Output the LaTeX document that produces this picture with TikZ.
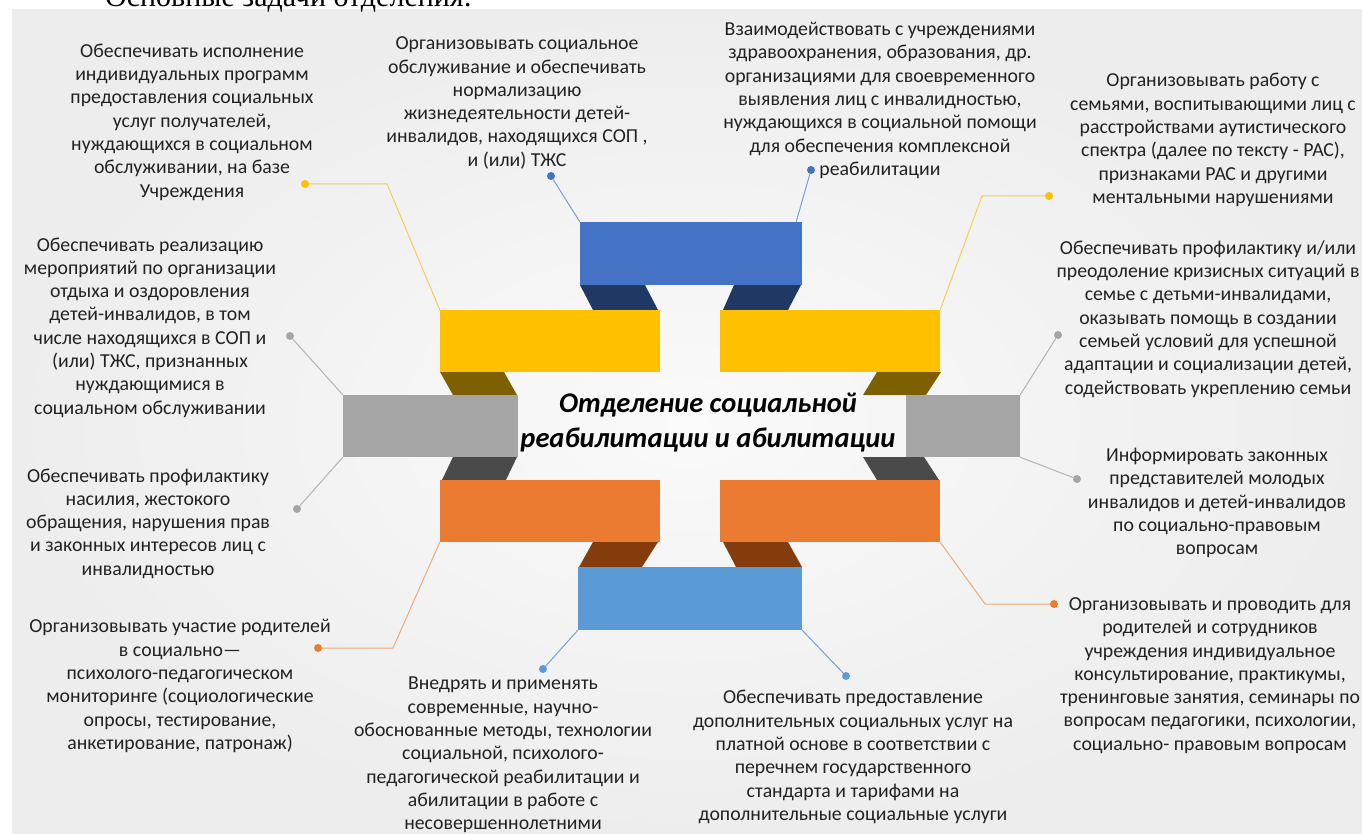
\documentclass[tikz,border=0pt]{standalone}
\usepackage{fontspec}
\setmainfont{Carlito}
\newfontfamily\seriffont{Liberation Serif}
\definecolor{txtc}{HTML}{222222}
\definecolor{cblue}{HTML}{4472C4}
\definecolor{cnavy}{HTML}{203864}
\definecolor{cyel}{HTML}{FFC000}
\definecolor{colive}{HTML}{7F6000}
\definecolor{cgray}{HTML}{A5A5A5}
\definecolor{cdgray}{HTML}{4A4A4A}
\definecolor{corange}{HTML}{EB7B30}
\definecolor{cbrown}{HTML}{843C0C}
\definecolor{clblue}{HTML}{5B9BD5}
\definecolor{lyel}{HTML}{F6CD55}
\definecolor{lgray}{HTML}{B4B4B4}
\definecolor{lblue}{HTML}{7E9BD4}
\definecolor{lorange}{HTML}{F2A878}
\begin{document}
\begin{tikzpicture}[x=1pt,y=-1pt,
  txt/.style={align=center, font=\fontsize{19.8}{23.3}\selectfont, text=txtc, inner sep=0pt},
  box/.style={rectangle, inner sep=0pt, draw=none},
  dot/.style={circle, inner sep=0pt, minimum size=8pt},
  conn/.style={line width=1pt}]
\useasboundingbox (0,0) rectangle (1362,834);
\fill[white] (0,0) rectangle (1362,834);
\shade[inner color=black!2, outer color=black!7] (12,10) rectangle (1362,834);
\node[font=\seriffont\fontsize{30}{32}\selectfont, anchor=base west, inner sep=0pt] (hdr) at (105,7) {Основные задачи отделения:};

% fold pieces
\fill[cnavy] (580,285) -- (645,285) -- (658,310) -- (593,310) -- cycle;
\fill[cnavy] (734,285) -- (801,285) -- (788,310) -- (723,310) -- cycle;
\fill[colive] (440,372) -- (504,372) -- (517,395) -- (453,395) -- cycle;
\fill[colive] (877,372) -- (941,372) -- (926,395) -- (863,395) -- cycle;
\fill[cdgray] (453,457) -- (517,457) -- (506,480) -- (442,480) -- cycle;
\fill[cdgray] (863,457) -- (924,457) -- (939,480) -- (877,480) -- cycle;
\fill[cbrown] (593,542) -- (658,542) -- (642,567) -- (579,567) -- cycle;
\fill[cbrown] (723,542) -- (788,542) -- (802,567) -- (736,567) -- cycle;

% boxes
\node[box, fill=cblue, minimum width=222pt, minimum height=63pt] (bt) at (691,253.5) {};
\node[box, fill=cyel, minimum width=220pt, minimum height=62pt] (yl) at (550,341) {};
\node[box, fill=cyel, minimum width=220pt, minimum height=62pt] (yr) at (830,341) {};
\node[box, fill=cgray, minimum width=175pt, minimum height=62pt] (gl) at (430.5,426) {};
\node[box, fill=cgray, minimum width=114pt, minimum height=62pt] (gr) at (963,426) {};
\node[box, fill=corange, minimum width=220pt, minimum height=62pt] (ol) at (550,511) {};
\node[box, fill=corange, minimum width=220pt, minimum height=62pt] (or) at (830,511) {};
\node[box, fill=clblue, minimum width=224pt, minimum height=63pt] (bb) at (690,598.5) {};

\node[align=center, font=\bfseries\itshape\fontsize{28.5}{35}\selectfont, text=black, inner sep=0pt] (ctr) at (708,423)
 {Отделение социальной\\реабилитации и абилитации};

% dots
\node[dot, fill=cyel] (d1) at (305,184) {};
\node[dot, fill=cblue] (d2) at (551,176) {};
\node[dot, fill=cblue] (d3) at (811,170) {};
\node[dot, fill=cyel] (d4) at (1049,196) {};
\node[dot, fill=cgray] (d5) at (1058,335) {};
\node[dot, fill=cgray] (d6) at (1077,479) {};
\node[dot, fill=corange] (d7) at (1054,604) {};
\node[dot, fill=clblue] (d8) at (846,676) {};
\node[dot, fill=clblue] (d9) at (543,669) {};
\node[dot, fill=corange] (d10) at (318,648) {};
\node[dot, fill=cgray] (d11) at (297,509) {};
\node[dot, fill=cgray] (d12) at (290,336) {};

% connectors
\draw[conn, lyel] (d1) -- (387,184) -- (yl.north west);
\draw[conn, lblue] (d2) -- (bt.north west);
\draw[conn, lblue] (d3) -- ([xshift=-6pt]bt.north east);
\draw[conn, lyel] (d4) -- (982,196) -- (yr.north east);
\draw[conn, lgray] (d5) -- (gr.north east);
\draw[conn, lgray] (d6) -- (gr.south east);
\draw[conn, lorange] (d7) -- (985,604) -- (or.south east);
\draw[conn, lblue] (d8) -- (bb.south east);
\draw[conn, lblue] (d9) -- (bb.south west);
\draw[conn, lorange] (d10) -- (393,648) -- (ol.south west);
\draw[conn, lgray] (d11) -- (gl.south west);
\draw[conn, lgray] (d12) -- (gl.north west);

% texts
\node[txt] (t1) at (192,122) {Обеспечивать исполнение\\индивидуальных программ\\предоставления социальных\\услуг получателей,\\нуждающихся в социальном\\обслуживании, на базе\\Учреждения};
\node[txt] (t2) at (517,103) {Организовывать социальное\\обслуживание и обеспечивать\\нормализацию\\жизнедеятельности детей-\\инвалидов, находящихся СОП ,\\и (или) ТЖС};
\node[txt] (t3) at (880,100.5) {Взаимодействовать с учреждениями\\здравоохранения, образования, др.\\организациями для своевременного\\выявления лиц с инвалидностью,\\нуждающихся в социальной помощи\\для обеспечения комплексной\\реабилитации};
\node[txt] (t4) at (1213,140) {Организовывать работу с\\семьями, воспитывающими лиц с\\расстройствами аутистического\\спектра (далее по тексту - РАС),\\признаками РАС и другими\\ментальными нарушениями};
\node[txt] (t5) at (1208,319) {Обеспечивать профилактику и/или\\преодоление кризисных ситуаций в\\семье с детьми-инвалидами,\\оказывать помощь в создании\\семьей условий для успешной\\адаптации и социализации детей,\\содействовать укреплению семьи};
\node[txt] (t6) at (1217,503) {Информировать законных\\представителей молодых\\инвалидов и детей-инвалидов\\по социально-правовым\\вопросам};
\node[txt] (t7) at (1210,675.5) {Организовывать и проводить для\\родителей и сотрудников\\учреждения индивидуальное\\консультирование, практикумы,\\тренинговые занятия, семинары по\\вопросам педагогики, психологии,\\социально- правовым вопросам};
\node[txt] (t8) at (853,757) {Обеспечивать предоставление\\дополнительных социальных услуг на\\платной основе в соответствии с\\перечнем государственного\\стандарта и тарифами на\\дополнительные социальные услуги};
\node[txt] (t9) at (503,755) {Внедрять и применять\\современные, научно-\\обоснованные методы, технологии\\социальной, психолого-\\педагогической реабилитации и\\абилитации в работе с\\несовершеннолетними};
\node[txt] (t10) at (180,686) {Организовывать участие родителей\\в социально—\\психолого-педагогическом\\мониторинге (социологические\\опросы, тестирование,\\анкетирование, патронаж)};
\node[txt] (t11) at (148,523.5) {Обеспечивать профилактику\\насилия, жестокого\\обращения, нарушения прав\\и законных интересов лиц с\\инвалидностью};
\node[txt] (t12) at (150,327.5) {Обеспечивать реализацию\\мероприятий по организации\\отдыха и оздоровления\\детей-инвалидов, в том\\числе находящихся в СОП и\\(или) ТЖС, признанных\\нуждающимися в\\социальном обслуживании};
\end{tikzpicture}
\end{document}
